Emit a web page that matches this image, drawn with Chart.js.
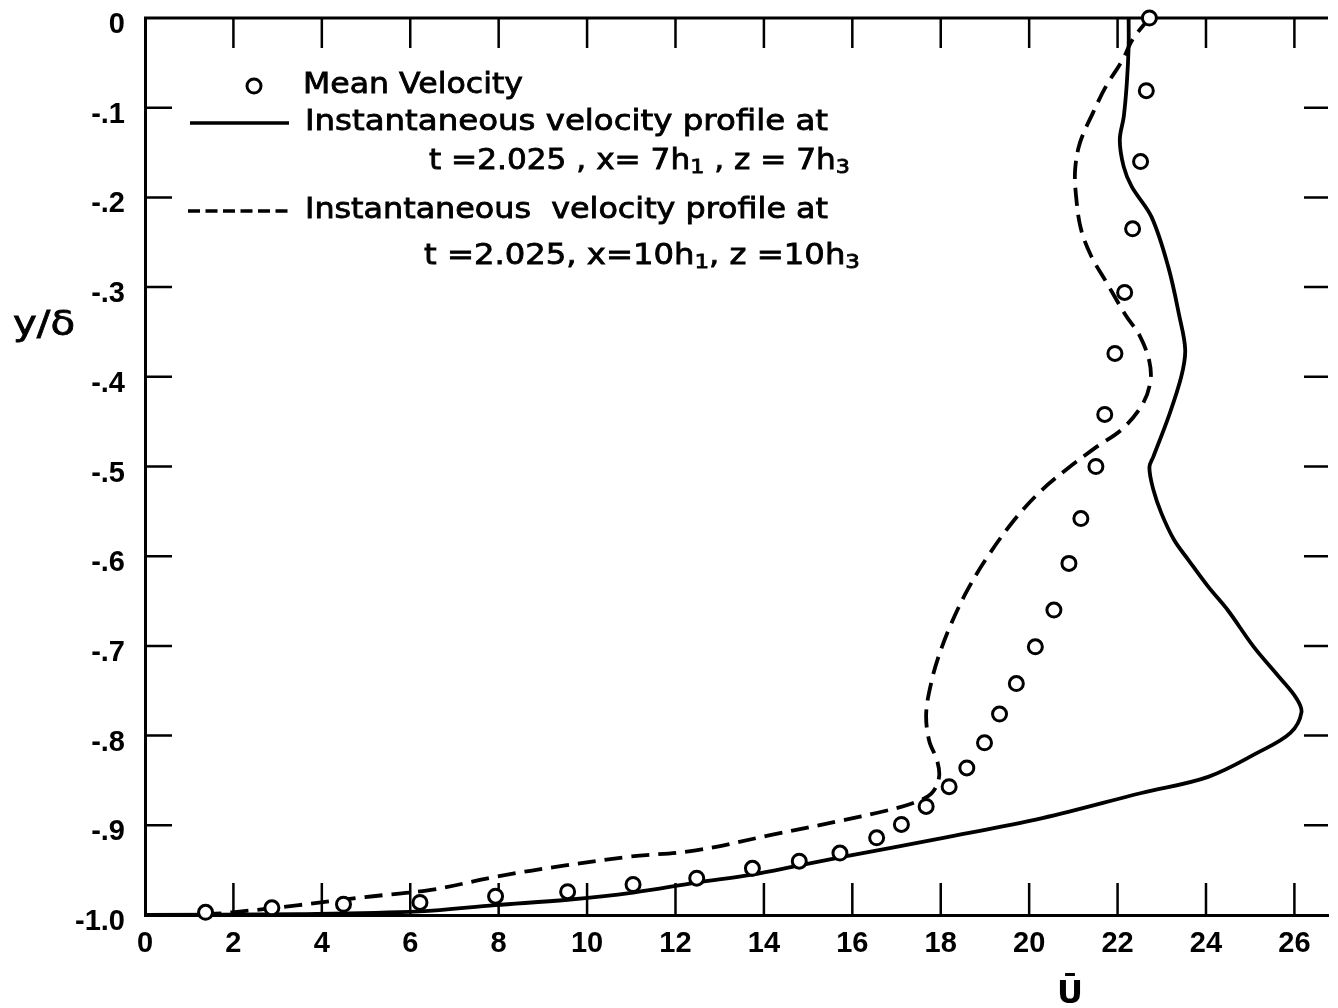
<!DOCTYPE html>
<html>
<head>
<meta charset="utf-8">
<script src="https://cdn.jsdelivr.net/npm/chart.js@4.4.1/dist/chart.umd.min.js"></script>
<style>
  html, body { margin: 0; padding: 0; background: #fff; }
  canvas { display: block; }
</style>
</head>
<body>
<canvas id="profile" width="1338" height="1008"></canvas>
<script>
// mean velocity (circles)
const meanU = [1.37, 2.87, 4.49, 6.22, 7.93, 9.56, 11.04, 12.48, 13.74, 14.80, 15.72,
    16.55, 17.11, 17.67, 18.19, 18.59, 18.99, 19.33, 19.71, 20.14, 20.56, 20.90,
    21.17, 21.51, 21.71, 21.94, 22.16, 22.34, 22.52, 22.65, 22.72];
const meanY = [-0.997, -0.992, -0.988, -0.986, -0.979, -0.974, -0.966, -0.959, -0.948, -0.940, -0.931,
    -0.914, -0.899, -0.879, -0.857, -0.836, -0.808, -0.776, -0.742, -0.701, -0.660, -0.608,
    -0.558, -0.500, -0.442, -0.374, -0.306, -0.235, -0.160, -0.081, 0];

// instantaneous profile, x = 7h1, z = 7h3 (solid)
const solidU = [22.25, 22.25, 22.21, 22.14, 22.05, 22.14, 22.32, 22.77, 23.15, 23.40, 23.53,
    23.44, 23.15, 22.81, 22.72, 22.81, 22.99, 23.28, 23.60, 24.05, 24.49, 25.08,
    25.68, 26.04, 26.16, 25.91, 25.17, 24.05, 22.54, 20.30, 18.06, 15.81, 14.78,
    13.73, 12.47, 11.04, 9.56, 7.92, 6.21, 3.48, 0];
const solidY = [0, -0.032, -0.072, -0.110, -0.136, -0.166, -0.188, -0.222, -0.278, -0.333, -0.370,
    -0.400, -0.445, -0.489, -0.501, -0.526, -0.552, -0.582, -0.604, -0.634, -0.660, -0.701,
    -0.736, -0.758, -0.774, -0.797, -0.819, -0.846, -0.864, -0.892, -0.914, -0.935, -0.945,
    -0.955, -0.964, -0.975, -0.983, -0.989, -0.996, -0.999, -1.0];

// instantaneous profile, x = 10h1, z = 10h3 (dashed)
const dashedU = [22.72, 22.34, 22.11, 21.74, 21.44, 21.15, 21.04, 21.06, 21.17, 21.40, 21.74,
    22.18, 22.50, 22.72, 22.74, 22.56, 22.11, 21.50, 20.85, 20.25, 19.64, 19.04,
    18.59, 18.23, 17.95, 17.78, 17.67, 17.74, 17.92, 17.96, 17.78, 17.33, 16.57,
    15.83, 14.14, 12.46, 10.96, 9.47, 7.97, 6.47, 4.98, 3.48, 1.98, 1.20];
const dashedY = [0, -0.024, -0.047, -0.076, -0.106, -0.139, -0.169, -0.198, -0.235, -0.265, -0.294,
    -0.331, -0.354, -0.383, -0.406, -0.431, -0.458, -0.479, -0.503, -0.528, -0.561, -0.602,
    -0.639, -0.676, -0.712, -0.742, -0.776, -0.806, -0.828, -0.847, -0.865, -0.876, -0.886,
    -0.894, -0.911, -0.928, -0.935, -0.945, -0.957, -0.972, -0.980, -0.989, -0.997, -1.0];

const uTicks = [0, 2, 4, 6, 8, 10, 12, 14, 16, 18, 20, 22, 24, 26];
const yTickLabels = ['0', '-.1', '-.2', '-.3', '-.4', '-.5', '-.6', '-.7', '-.8', '-.9', '-1.0'];

const TICK_FONT = '"Liberation Sans", Arial, sans-serif';
const TEXT_FONT = '"DejaVu Sans", sans-serif';

function toPoints(xs, ys) {
    return xs.map((x, i) => ({x: x, y: ys[i]}));
}

// one legend line; "_3" puts the digit 3 as a subscript.
// The whole line is stretched to span w pixels.
function legendLine(ctx, str, x, y, w, size) {
    const parts = str.split(/_(\d)/);
    const fonts = [size + 'px ' + TEXT_FONT, Math.round(size * 0.72) + 'px ' + TEXT_FONT];
    let total = 0;
    const widths = parts.map((p, i) => {
        ctx.font = fonts[i % 2];
        const pw = ctx.measureText(p).width;
        total += pw;
        return pw;
    });
    ctx.save();
    ctx.translate(x, y);
    ctx.scale(w / total, 1);
    let cx = 0;
    parts.forEach((p, i) => {
        ctx.font = fonts[i % 2];
        const dy = i % 2 ? size * 0.2 : 0;
        ctx.fillText(p, cx, dy);
        ctx.strokeText(p, cx, dy);
        cx += widths[i];
    });
    ctx.restore();
}

// frame: top edge plus the inward tick marks on all four sides
const frame = {
    id: 'frame',
    beforeDatasetsDraw(chart) {
        const ctx = chart.ctx;
        const a = chart.chartArea;
        const xs = chart.scales.x, ys = chart.scales.y;
        ctx.save();
        ctx.strokeStyle = '#000';
        ctx.lineWidth = 3;
        ctx.beginPath();
        ctx.moveTo(a.left - 1, a.top);
        ctx.lineTo(a.right, a.top);
        ctx.stroke();
        ctx.lineWidth = 2.5;
        ctx.beginPath();
        uTicks.forEach(u => {
            if (u === 0) return;
            const px = xs.getPixelForValue(u);
            ctx.moveTo(px, a.top);
            ctx.lineTo(px, a.top + 30);
            ctx.moveTo(px, a.bottom);
            ctx.lineTo(px, a.bottom - 32);
        });
        for (let i = 1; i < yTickLabels.length - 1; i++) {
            const py = ys.getPixelForValue(-i / 10);
            ctx.moveTo(a.left, py);
            ctx.lineTo(a.left + 27, py);
            ctx.moveTo(a.right - 24, py);
            ctx.lineTo(a.right, py);
        }
        ctx.stroke();
        ctx.restore();
    }
};

// legend block and axis names
const notes = {
    id: 'notes',
    afterDraw(chart) {
        const ctx = chart.ctx;
        ctx.save();
        ctx.strokeStyle = '#000';
        ctx.textBaseline = 'middle';
        ctx.textAlign = 'left';

        // symbols
        ctx.lineWidth = 3;
        ctx.beginPath();
        ctx.arc(254, 86, 7, 0, Math.PI * 2);
        ctx.fillStyle = '#fff';
        ctx.fill();
        ctx.stroke();
        ctx.fillStyle = '#000';

        ctx.lineWidth = 3.5;
        ctx.beginPath();
        ctx.moveTo(190, 123);
        ctx.lineTo(289, 123);
        ctx.stroke();

        ctx.setLineDash([12, 5.5]);
        ctx.beginPath();
        ctx.moveTo(188, 211);
        ctx.lineTo(289, 211);
        ctx.stroke();
        ctx.setLineDash([]);

        ctx.lineWidth = 0.8;
        legendLine(ctx, 'Mean Velocity', 303, 86, 220, 28);
        legendLine(ctx, 'Instantaneous velocity profile at', 305, 123, 523, 28);
        legendLine(ctx, 't =2.025 , x= 7h_1 , z = 7h_3', 429, 162, 421, 28);
        legendLine(ctx, 'Instantaneous  velocity profile at', 305, 211, 523, 28);
        legendLine(ctx, 't =2.025, x=10h_1, z =10h_3', 424, 257, 436, 28);

        legendLine(ctx, 'y/\u03b4', 13, 326, 62, 34);
        ctx.font = 'bold 32px ' + TEXT_FONT;
        ctx.textAlign = 'center';
        ctx.textBaseline = 'alphabetic';
        ctx.fillText('\u016a', 1070, 1003);
        ctx.restore();
    }
};

new Chart(document.getElementById('profile'), {
    type: 'scatter',
    data: {
        datasets: [{
            label: 'Mean Velocity',
            data: toPoints(meanU, meanY),
            showLine: false,
            pointStyle: 'circle',
            pointRadius: 7,
            pointBorderWidth: 3,
            pointBorderColor: '#000',
            pointBackgroundColor: '#fff',
            clip: false,
            order: 0
        }, {
            label: 'x=7h1, z=7h3',
            data: toPoints(solidU, solidY),
            showLine: true,
            pointRadius: 0,
            borderColor: '#000',
            borderWidth: 3.8,
            tension: 0.35,
            order: 1
        }, {
            label: 'x=10h1, z=10h3',
            data: toPoints(dashedU, dashedY),
            showLine: true,
            pointRadius: 0,
            borderColor: '#000',
            borderWidth: 3.8,
            borderDash: [18, 9],
            tension: 0.35,
            order: 2
        }]
    },
    options: {
        responsive: false,
        animation: false,
        devicePixelRatio: 1,
        layout: { padding: { top: 18, right: 0, left: 0, bottom: 0 } },
        plugins: {
            legend: { display: false },
            tooltip: { enabled: false }
        },
        scales: {
            x: {
                type: 'linear',
                min: 0,
                max: 26.76,
                grid: { display: false, drawTicks: false },
                border: { display: true, color: '#000', width: 3 },
                ticks: {
                    stepSize: 2,
                    includeBounds: false,
                    padding: 12,
                    color: '#000',
                    font: { family: TICK_FONT, size: 29, weight: 'bold' },
                    maxRotation: 0,
                    autoSkip: false,
                    callback: v => uTicks.includes(v) ? String(v) : ''
                },
                afterFit(scale) {
                    scale.height = 93;
                    scale.paddingLeft = 0;
                    scale.paddingRight = 0;
                }
            },
            y: {
                type: 'linear',
                min: -1,
                max: 0,
                grid: { display: false, drawTicks: false },
                border: { display: true, color: '#000', width: 3 },
                ticks: {
                    stepSize: 0.1,
                    padding: 20,
                    labelOffset: 7,
                    color: '#000',
                    font: { family: TICK_FONT, size: 29, weight: 'bold' },
                    autoSkip: false,
                    callback: v => yTickLabels[Math.round(-v * 10)]
                },
                afterFit(scale) {
                    scale.width = 145;
                    scale.paddingTop = 0;
                    scale.paddingBottom = 0;
                }
            }
        }
    },
    plugins: [frame, notes]
});
</script>
</body>
</html>
